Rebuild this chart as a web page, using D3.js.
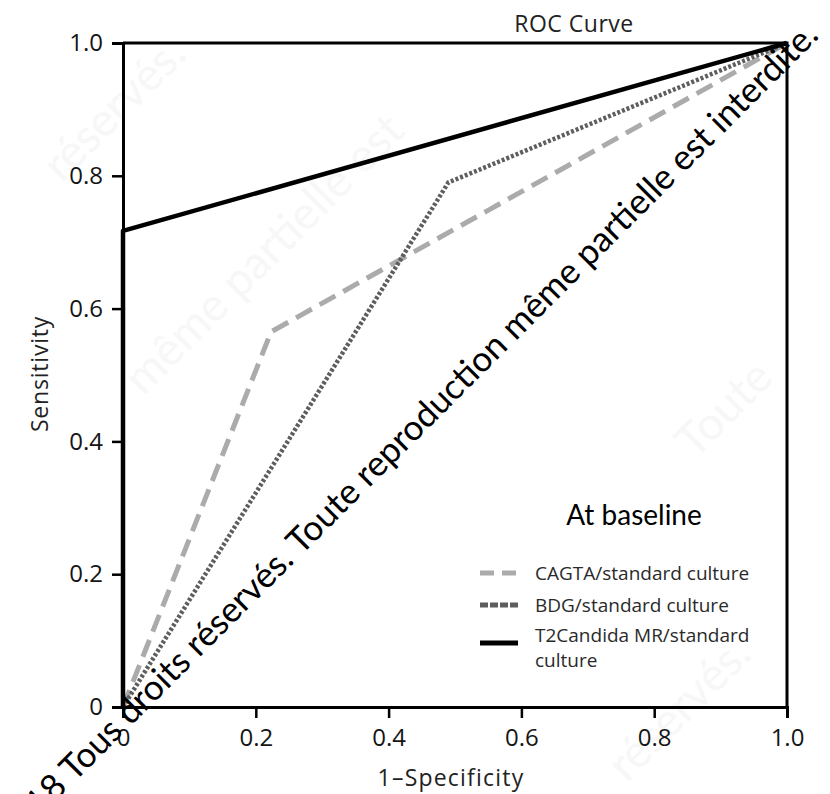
<!DOCTYPE html>
<html>
<head>
<meta charset="utf-8">
<script src="https://cdn.jsdelivr.net/npm/d3@7"></script>
<style>
  body { margin: 0; background: #fff; }
  svg { display: block; }
</style>
</head>
<body>
<div id="chart"></div>
<script>
// values
const seriesNames = ["CAGTA/standard culture", "BDG/standard culture", "T2Candida MR/standard culture"];
const cagtaSpec = [0, 0.223, 1];
const cagtaSens = [0, 0.565, 1];
const bdgSpec = [0, 0.49, 1];
const bdgSens = [0, 0.79, 1];
const t2Spec = [0, 0, 1];
const t2Sens = [0, 0.717, 1];
const tickValues = [0, 0.2, 0.4, 0.6, 0.8, 1.0];
const tickLabels = ["0", "0.2", "0.4", "0.6", "0.8", "1.0"];
const watermark = "© 2018 Tous droits réservés. Toute reproduction même partielle est interdite.";

const width = 830;
const height = 794;
const font = "'Open Sans', 'Noto Sans', sans-serif";

const svg = d3.select("#chart").append("svg")
  .attr("width", width)
  .attr("height", height)
  .style("font-family", font);

// very faint background watermark pieces
const faint = svg.append("g")
  .attr("fill", "#f7f7f7")
  .style("font-family", "Lato, sans-serif")
  .style("font-size", "46px");
[
  [125, 120, "réservés."],
  [275, 265, "même partielle est"],
  [735, 420, "Toute"],
  [690, 720, "réservés."]
].forEach(([cx, cy, t]) => {
  faint.append("text")
    .attr("transform", `translate(${cx},${cy}) rotate(-45)`)
    .attr("text-anchor", "middle")
    .text(t);
});

const x = d3.scaleLinear().domain([0, 1]).range([123, 787]);
const y = d3.scaleLinear().domain([0, 1]).range([707, 43]);

const series = [
  { name: seriesNames[0], spec: cagtaSpec, sens: cagtaSens, color: "#ababab", width: 5, dash: "18,9" },
  { name: seriesNames[1], spec: bdgSpec, sens: bdgSens, color: "#5e5e5e", width: 4.5, dash: "3,2" },
  { name: seriesNames[2], spec: t2Spec, sens: t2Sens, color: "#000", width: 4.5, dash: null }
];

const line = d3.line().x(d => x(d[0])).y(d => y(d[1]));

svg.append("g").selectAll("path")
  .data(series)
  .join("path")
  .attr("d", s => line(s.spec.map((v, i) => [v, s.sens[i]])))
  .attr("fill", "none")
  .attr("stroke", s => s.color)
  .attr("stroke-width", s => s.width)
  .attr("stroke-dasharray", s => s.dash)
  .attr("stroke-linejoin", "round");

// frame top / right
svg.append("path")
  .attr("d", `M${x(0)},${y(1)}H${x(1)}V${y(0)}`)
  .attr("fill", "none")
  .attr("stroke", "#000")
  .attr("stroke-width", 3);

const fmt = d => tickLabels[tickValues.indexOf(d)];

const yAxis = svg.append("g")
  .attr("transform", `translate(${x(0)},0)`)
  .call(d3.axisLeft(y).tickValues(tickValues).tickFormat(fmt).tickSize(11).tickPadding(9));

const xAxis = svg.append("g")
  .attr("transform", `translate(0,${y(0)})`)
  .call(d3.axisBottom(x).tickValues(tickValues).tickFormat(fmt).tickSize(11).tickPadding(11));

[xAxis, yAxis].forEach(a => {
  a.select(".domain").attr("stroke", "#000").attr("stroke-width", 3);
  a.selectAll(".tick line").attr("stroke", "#000").attr("stroke-width", 2.5);
  a.selectAll(".tick text")
    .attr("fill", "#151515")
    .style("font-family", font)
    .style("font-size", "24px");
});

svg.append("text")
  .attr("x", 574).attr("y", 32)
  .attr("text-anchor", "middle")
  .attr("fill", "#222")
  .style("font-size", "23px")
  .style("letter-spacing", "0.5px")
  .text("ROC Curve");

svg.append("text")
  .attr("x", 451).attr("y", 786)
  .attr("text-anchor", "middle")
  .attr("fill", "#222")
  .style("font-size", "23px")
  .style("letter-spacing", "1.2px")
  .text("1–Specificity");

svg.append("text")
  .attr("transform", "translate(48,374) rotate(-90)")
  .attr("text-anchor", "middle")
  .attr("fill", "#222")
  .style("font-size", "23px")
  .style("letter-spacing", "0.8px")
  .text("Sensitivity");

// legend
const legend = svg.append("g");
legend.append("text")
  .attr("x", 634).attr("y", 525)
  .attr("text-anchor", "middle")
  .attr("fill", "#000")
  .style("font-family", "Lato, sans-serif")
  .style("font-size", "28px")
  .text("At baseline");

const legendRows = [
  { y: 573, base: 580, lines: ["CAGTA/standard culture"] },
  { y: 605, base: 612, lines: ["BDG/standard culture"] },
  { y: 643, base: 642, lines: ["T2Candida MR/standard", "culture"] }
];
legendRows.forEach((r, i) => {
  const s = series[i];
  legend.append("line")
    .attr("x1", 480).attr("x2", 518)
    .attr("y1", r.y).attr("y2", r.y)
    .attr("stroke", s.color)
    .attr("stroke-width", 5)
    .attr("stroke-dasharray", i === 0 ? "14,8" : i === 1 ? "8,2" : null);
  const t = legend.append("text")
    .attr("x", 535)
    .attr("y", r.base)
    .attr("fill", "#2a2a2a")
    .style("font-size", "19px");
  r.lines.forEach((l, k) => {
    t.append("tspan").attr("x", 535).attr("dy", k === 0 ? 0 : 25).text(l);
  });
});

// dark watermark across the plot, sized so "droits ... interdite." spans the reference length
const wm = svg.append("text")
  .attr("transform", "translate(820,37) rotate(-45)")
  .attr("text-anchor", "end")
  .attr("fill", "#000")
  .style("font-family", "Lato, sans-serif")
  .style("font-size", "30px")
  .text(watermark);
const from = watermark.indexOf("droits");
const subLen = wm.node().getSubStringLength(from, watermark.length - from);
wm.style("font-size", (30 * 975 / subLen) + "px");
</script>
</body>
</html>
